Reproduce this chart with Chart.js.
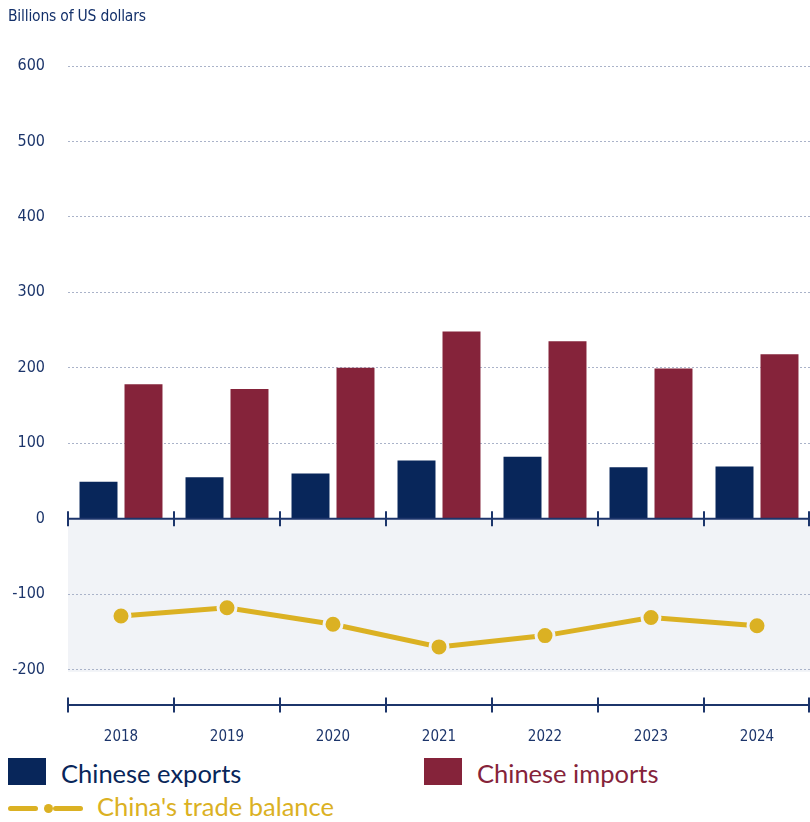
<!DOCTYPE html>
<html>
<head>
<meta charset="utf-8">
<title>China trade with the US</title>
<script src="https://cdn.jsdelivr.net/npm/chart.js@4"></script>
<style>
  html, body { margin: 0; padding: 0; background: #fff; }
  #wrap { position: relative; width: 810px; height: 822px; overflow: hidden; }
  #unit {
    position: absolute; left: 8px; top: 6px;
    font: 15.5px/20px "Liberation Sans Narrow", "Arial Narrow", "DejaVu Sans Condensed", sans-serif;
    color: #13306a; letter-spacing: -0.2px;
  }
  .lg-box { position: absolute; width: 38px; height: 27px; }
  .lg-text { position: absolute; font: 25.5px/30px Lato, "Open Sans", sans-serif; white-space: nowrap; }
  .lg-seg { position: absolute; height: 5px; border-radius: 2.5px; }
  .lg-dot { position: absolute; width: 9px; height: 9px; border-radius: 50%; }
</style>
</head>
<body>
<div id="wrap">
  <canvas id="chart" width="810" height="745" style="position:absolute;left:0;top:0"></canvas>
  <div id="unit">Billions of US dollars</div>
  <div id="legend"></div>
</div>
<script>
// US-China goods trade, billions of US dollars
const years = ['2018', '2019', '2020', '2021', '2022', '2023', '2024'];
const exportsBn = [49, 55, 60, 77, 82, 68, 69];
const importsBn = [178, 172, 200, 248, 235, 199, 218];
const balanceBn = [-129, -118, -140, -170, -155, -131, -142];
const yTicks = [-200, -100, 0, 100, 200, 300, 400, 500, 600];

const NAVY = '#08265a';
const MAROON = '#85233a';
const GOLD = '#dbb123';
const AXIS = '#1c356b';
const BAND = '#f1f3f7';
const NARROW = '"Liberation Sans Narrow", "Arial Narrow", "DejaVu Sans Condensed", sans-serif';

// grey band under zero and the two solid axis lines with their tick marks
const axisLines = {
  id: 'axisLines',
  beforeDraw(chart) {
    const { ctx, chartArea: a, scales: { y } } = chart;
    const top = y.getPixelForValue(0);
    const bottom = y.getPixelForValue(-203);
    ctx.save();
    ctx.fillStyle = BAND;
    ctx.fillRect(a.left, top, a.right - a.left, bottom - top);
    ctx.restore();
  },
  afterDatasetsDraw(chart) {
    const { ctx, chartArea: a, scales: { x, y } } = chart;
    const bounds = [a.left];
    for (let i = 1; i < years.length; i++) {
      bounds.push((x.getPixelForValue(i - 1) + x.getPixelForValue(i)) / 2);
    }
    bounds.push(a.right - 1);
    ctx.save();
    ctx.strokeStyle = AXIS;
    ctx.lineWidth = 2;
    [y.getPixelForValue(0), a.bottom].forEach(py => {
      ctx.beginPath();
      ctx.moveTo(a.left, py);
      ctx.lineTo(a.right, py);
      ctx.stroke();
      bounds.forEach(bx => {
        ctx.beginPath();
        ctx.moveTo(bx, py - 7.5);
        ctx.lineTo(bx, py + 7.5);
        ctx.stroke();
      });
    });
    ctx.restore();
  }
};

const chart = new Chart(document.getElementById('chart'), {
  type: 'bar',
  data: {
    labels: years,
    datasets: [
      {
        label: 'Chinese exports',
        data: exportsBn,
        backgroundColor: NAVY,
        borderWidth: 0,
        categoryPercentage: 0.849,
        barPercentage: 0.844,
        order: 1
      },
      {
        label: 'Chinese imports',
        data: importsBn,
        backgroundColor: MAROON,
        borderWidth: 0,
        categoryPercentage: 0.849,
        barPercentage: 0.844,
        order: 1
      },
      {
        type: 'line',
        label: "China's trade balance",
        data: balanceBn,
        borderColor: GOLD,
        backgroundColor: GOLD,
        borderWidth: 5,
        tension: 0,
        pointRadius: 9,
        pointHoverRadius: 9,
        pointBorderWidth: 3,
        pointBorderColor: BAND,
        pointBackgroundColor: GOLD,
        order: 0
      }
    ]
  },
  options: {
    responsive: false,
    animation: false,
    layout: { autoPadding: false, padding: { top: 66, right: 0, bottom: 0, left: 0 } },
    plugins: {
      legend: { display: false },
      tooltip: { enabled: false }
    },
    scales: {
      x: {
        grid: { display: false },
        border: { display: false },
        ticks: {
          color: AXIS,
          padding: 15,
          font: { family: NARROW, size: 15 }
        },
        afterFit(s) { s.height = 40; }
      },
      y: {
        min: -247,
        max: 600,
        afterBuildTicks(s) { s.ticks = yTicks.map(v => ({ value: v })); },
        afterFit(s) { s.width = 68; },
        grid: {
          drawTicks: false,
          lineWidth: 1,
          color: c => (c.tick && c.tick.value === 0) ? 'rgba(0,0,0,0)' : '#aab3c9'
        },
        border: { display: false, dash: [2, 2] },
        ticks: {
          color: AXIS,
          padding: 23,
          font: { family: NARROW, size: 16 }
        }
      }
    }
  },
  plugins: [axisLines]
});

// legend laid out under the axis, built from the datasets
const legend = document.getElementById('legend');
function add(cls, style, text) {
  const el = document.createElement('div');
  el.className = cls;
  Object.assign(el.style, style);
  if (text) el.textContent = text;
  legend.appendChild(el);
}
const [dsExp, dsImp, dsBal] = chart.data.datasets;
add('lg-box', { left: '8px', top: '758px', background: dsExp.backgroundColor });
add('lg-text', { left: '61px', top: '758px', color: dsExp.backgroundColor }, dsExp.label);
add('lg-box', { left: '424px', top: '758px', background: dsImp.backgroundColor });
add('lg-text', { left: '477px', top: '758px', color: dsImp.backgroundColor }, dsImp.label);
add('lg-seg', { left: '8px', top: '806px', width: '30px', background: dsBal.borderColor });
add('lg-dot', { left: '43.5px', top: '804px', background: dsBal.borderColor });
add('lg-seg', { left: '53px', top: '806px', width: '30px', background: dsBal.borderColor });
add('lg-text', { left: '97px', top: '791px', color: dsBal.borderColor }, dsBal.label);
</script>
</body>
</html>
